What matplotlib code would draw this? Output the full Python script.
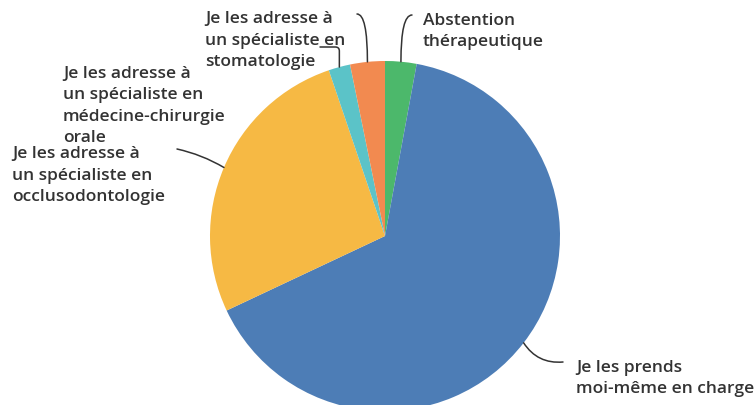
import numpy as np
import matplotlib.pyplot as plt

# valeurs (%), sens horaire depuis midi
labels = ["Abstention\nthérapeutique",
          "Je les prends\nmoi-même en charge",
          "Je les adresse à\nun spécialiste en\nocclusodontologie",
          "Je les adresse à\nun spécialiste en\nmédecine-chirurgie\norale",
          "Je les adresse à\nun spécialiste en\nstomatologie"]
values = [2.9, 65.1, 26.8, 2.0, 3.2]
colors = ["#4cb86b", "#4d7db6", "#f6b944", "#5bc3c8", "#f28a50"]

W, H = 755, 405
fig = plt.figure(figsize=(W / 100, H / 100), dpi=100)

# pie centre (385, 236) px, rayon 175 px
cx, cy, r = 385, 236, 175
ax = fig.add_axes([(cx - r) / W, (H - cy - r) / H, 2 * r / W, 2 * r / H])
wedges, _ = ax.pie(values, colors=colors, startangle=90, counterclock=False,
                   radius=1, wedgeprops=dict(linewidth=0))
ax.set_xlim(-1, 1)
ax.set_ylim(-1, 1)
ax.axis("off")

txt = dict(fontsize=12.5, color="#333333", fontweight="semibold",
           family=["Open Sans", "DejaVu Sans"], linespacing=1.45,
           ha="left", va="baseline")

# position du texte (px, ligne de base de la derniere ligne), extrémité du trait
label_pos = [(423, 46), (576, 393), (12, 201), (63, 142), (205, 66)]
line_end = [(412, 15), (563, 362), (177, 149), (320, 47), (357, 14)]
conn = ["angle3,angleA=0,angleB=90",
        "arc3,rad=-0.3",
        "arc3,rad=-0.08",
        "angle,angleA=0,angleB=90,rad=4",
        "angle3,angleA=0,angleB=90"]

for i, w in enumerate(wedges):
    fig.text(label_pos[i][0] / W, 1 - label_pos[i][1] / H, labels[i], **txt)
    mid = np.deg2rad((w.theta1 + w.theta2) / 2)
    xy = (np.cos(mid), np.sin(mid))
    ax.annotate("", xy=xy, xycoords="data",
                xytext=(line_end[i][0], H - line_end[i][1]),
                textcoords="figure pixels",
                arrowprops=dict(arrowstyle="-", color="#333333", lw=1.1,
                                connectionstyle=conn[i],
                                shrinkA=0, shrinkB=0),
                annotation_clip=False)

fig.savefig("out.png", dpi=100)
